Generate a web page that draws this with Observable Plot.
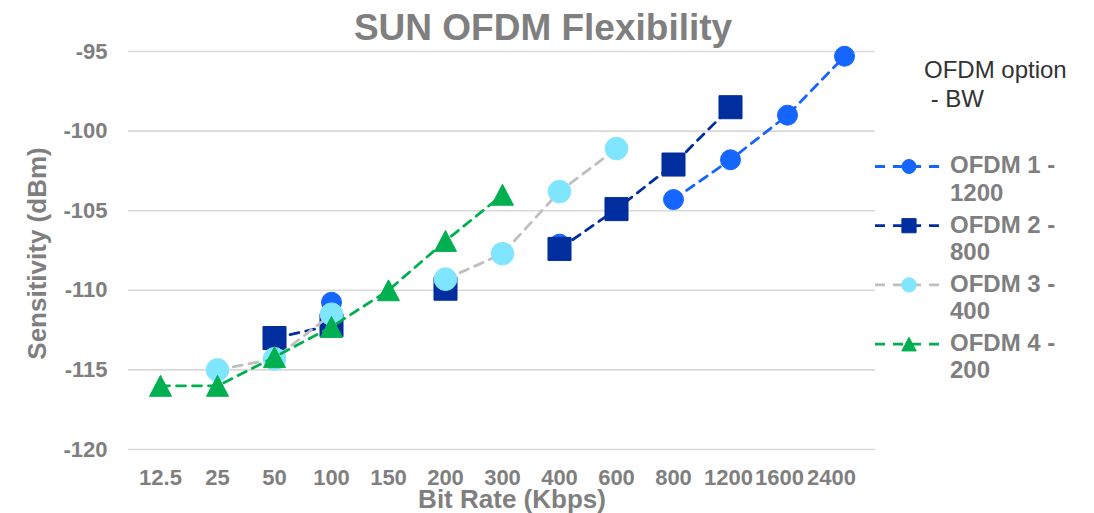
<!DOCTYPE html>
<html>
<head>
<meta charset="utf-8">
<script src="https://cdn.jsdelivr.net/npm/d3@7"></script>
<script src="https://cdn.jsdelivr.net/npm/@observablehq/plot@0.6"></script>
<style>
  html, body { margin: 0; padding: 0; background: #fff; }
  #wrap { position: relative; width: 1094px; height: 513px; overflow: hidden; font-family: "Liberation Sans", Arial, sans-serif; }
  #legend { position: absolute; left: 0; top: 0; }
</style>
</head>
<body>
<div id="wrap"></div>
<script>
// ---- data ----
const categories = ["12.5", "25", "50", "100", "150", "200", "300", "400", "600", "800", "1200", "1600", "2400"];
const yTicks = [-120, -115, -110, -105, -100, -95];

const ofdm1Rates = ["100", "400", "800", "1200", "1600", "2400"];
const ofdm1Values = [-110.75, -107.1, -104.3, -101.8, -99.0, -95.3];

const ofdm2Rates = ["50", "100", "200", "400", "600", "800", "1200"];
const ofdm2Values = [-113.0, -112.2, -109.9, -107.4, -104.9, -102.1, -98.5];

const ofdm3Rates = ["25", "50", "100", "200", "300", "400", "600"];
const ofdm3Values = [-115.0, -114.3, -111.5, -109.3, -107.7, -103.8, -101.1];

const ofdm4Rates = ["12.5", "25", "50", "100", "150", "200", "300"];
const ofdm4Values = [-116.0, -116.0, -114.2, -112.3, -110.0, -106.9, -104.0];

const seriesNames = ["OFDM 1 - 1200", "OFDM 2 - 800", "OFDM 3 - 400", "OFDM 4 - 200"];
const legendTitle = ["OFDM option", " - BW"];

// ---- styles ----
const FONT = "Liberation Sans, Arial, sans-serif";
const GRAY = "#7F7F7F";
const triangle = {
  draw(context, size) {
    const a = Math.sqrt(size / Math.PI);
    const h = 1.9 * a;
    context.moveTo(0, -h / 2);
    context.lineTo(a, h / 2);
    context.lineTo(-a, h / 2);
    context.closePath();
  }
};
const series = [
  {name: seriesNames[0], rates: ofdm1Rates, values: ofdm1Values, line: "#1565FF", fill: "#1565FF", symbol: "circle", r: 10, lr: 7},
  {name: seriesNames[1], rates: ofdm2Rates, values: ofdm2Values, line: "#002E9E", fill: "#002E9E", symbol: "square", r: 13, lr: 8},
  {name: seriesNames[2], rates: ofdm3Rates, values: ofdm3Values, line: "#BFBFBF", fill: "#80E5FF", symbol: "circle", r: 11.3, lr: 7.2},
  {name: seriesNames[3], rates: ofdm4Rates, values: ofdm4Values, line: "#00B050", fill: "#00B050", symbol: triangle, r: 11, lr: 7.2}
];
series.forEach(s => {
  s.data = s.rates.map((x, i) => ({x, y: s.values[i]}));
  // full category table: missing categories give gaps in the line (as in the original)
  s.full = categories.map(c => {
    const i = s.rates.indexOf(c);
    return {x: c, y: i >= 0 ? s.values[i] : NaN};
  });
});

const seriesMarks = series.flatMap(s => [
  Plot.line(s.full, {x: "x", y: "y", stroke: s.line, strokeWidth: 2.8, strokeDasharray: "9,7"}),
  Plot.dot(s.data, {x: "x", y: "y", r: s.r, symbol: s.symbol, fill: s.fill, stroke: s.fill, strokeWidth: 1})
]);

const txt = {fontWeight: "bold", fill: GRAY, lineAnchor: "middle", textAnchor: "middle"};
const xTickStyle = {tickSize: 0, tickPadding: 20, fontSize: 22, fontWeight: "bold", fill: GRAY, label: null};
// the last crowded tick labels are nudged left, as in the original rendering
const xTickShift = {"1200": -2, "1600": -8, "2400": -13};

const chart = Plot.plot({
  width: 1094,
  height: 513,
  marginLeft: 128,
  marginRight: 219,
  marginTop: 51,
  marginBottom: 64,
  style: {fontFamily: FONT, background: "transparent", overflow: "visible"},
  x: {type: "point", domain: categories, padding: 0.5},
  y: {domain: [-120, -95]},
  marks: [
    Plot.gridY(yTicks, {stroke: "#D9D9D9", strokeOpacity: 1, strokeWidth: 1.6}),
    Plot.axisY(yTicks, {tickSize: 0, tickPadding: 21, fontSize: 22, fontWeight: "bold", fill: GRAY, label: null, tickFormat: d => String(d)}),
    Plot.axisX(categories.filter(c => !(c in xTickShift)), xTickStyle),
    ...Object.keys(xTickShift).map(c => Plot.axisX([c], {...xTickStyle, dx: xTickShift[c]})),
    ...seriesMarks,
    Plot.text(["SUN OFDM Flexibility"], {...txt, frameAnchor: "top", dx: 41, dy: -23, fontSize: 37}),
    Plot.text(["Sensitivity (dBm)"], {...txt, frameAnchor: "left", dx: -91, dy: 3, rotate: -90, fontSize: 26}),
    Plot.text(["Bit Rate (Kbps)"], {...txt, frameAnchor: "bottom", dx: 10, dy: 50, fontSize: 26})
  ]
});
document.getElementById("wrap").appendChild(chart);

// ---- legend overlay ----
const lg = d3.select("#wrap").append("svg")
  .attr("id", "legend").attr("width", 1094).attr("height", 513)
  .style("font-family", FONT);

lg.append("text").attr("x", 924).attr("y", 78).attr("font-size", 24).attr("fill", "#333").text(legendTitle[0]);
lg.append("text").attr("x", 924).attr("y", 106.5).attr("font-size", 24).attr("fill", "#333")
  .attr("xml:space", "preserve").style("white-space", "pre").text(legendTitle[1]);

series.forEach((s, i) => {
  const ly = 166.5 + i * 59.2;
  const g = lg.append("g");
  g.append("line").attr("x1", 875).attr("x2", 941).attr("y1", ly).attr("y2", ly)
    .attr("stroke", s.line).attr("stroke-width", 2.8).attr("stroke-dasharray", "10,8");
  const sym = typeof s.symbol === "string" ? (s.symbol === "square" ? d3.symbolSquare : d3.symbolCircle) : s.symbol;
  g.append("path").attr("d", d3.symbol(sym, Math.PI * s.lr * s.lr)())
    .attr("transform", `translate(909,${ly})`).attr("fill", s.fill).attr("stroke", s.fill);
  const parts = s.name.split(" - ");
  g.append("text").attr("x", 950).attr("y", ly + 6.8).attr("font-size", 24).attr("font-weight", "bold")
    .attr("fill", GRAY).text(parts[0] + " -");
  g.append("text").attr("x", 950).attr("y", ly + 34.2).attr("font-size", 24).attr("font-weight", "bold")
    .attr("fill", GRAY).text(parts[1]);
});
</script>
</body>
</html>
